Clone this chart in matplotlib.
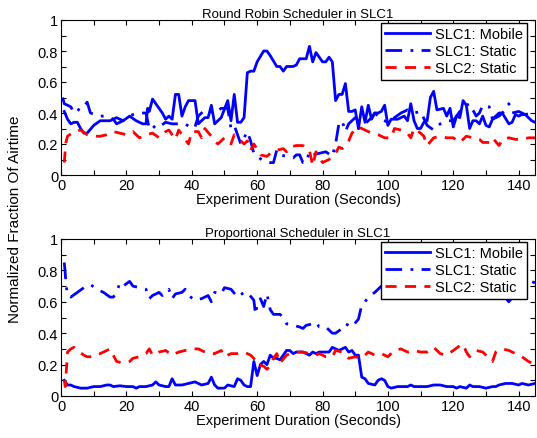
import matplotlib
matplotlib.use("Agg")
import matplotlib.pyplot as plt
from matplotlib.ticker import MultipleLocator

plt.rcParams['font.family'] = ['Liberation Sans', 'DejaVu Sans']

# ---------------- Top panel: Round Robin ----------------
rr_mob_x = [1,2,3,4,5,6,7,8,10,12,15,17,19,21,23,25,26,26.5,27,28,29,31,32,33,34,35,36,37,38,39,41,42,44,45,46,47,49,51,52,53,54,55,56,57,58,59,60,62,63,64,66,67,68,69,71,72,73,75,76,77,78,79,80,81,82,83,84,85,86,87,88,89,90,91,92,93,94,95,96,97,98,99,100,101,103,105,106,107,108,109,110,111,112,113,114,115,117,118,119,120,121,122,123,124,125,126,127,128,129,130,131,132,134,135,137,138,139,140,141,142,144,145]
rr_mob_y = [0.41,0.36,0.33,0.34,0.34,0.30,0.27,0.27,0.32,0.35,0.35,0.37,0.35,0.38,0.35,0.33,0.33,0.43,0.41,0.49,0.46,0.40,0.36,0.38,0.36,0.52,0.52,0.38,0.44,0.48,0.48,0.33,0.37,0.37,0.45,0.33,0.37,0.48,0.35,0.52,0.34,0.34,0.37,0.66,0.67,0.67,0.73,0.80,0.80,0.77,0.70,0.70,0.67,0.70,0.70,0.71,0.75,0.75,0.83,0.73,0.79,0.76,0.73,0.73,0.76,0.73,0.48,0.52,0.52,0.59,0.41,0.41,0.42,0.30,0.44,0.34,0.45,0.36,0.40,0.40,0.41,0.45,0.32,0.36,0.36,0.38,0.35,0.46,0.35,0.30,0.30,0.34,0.35,0.50,0.54,0.42,0.43,0.38,0.43,0.31,0.38,0.37,0.48,0.45,0.30,0.35,0.35,0.33,0.38,0.32,0.31,0.36,0.40,0.40,0.33,0.34,0.39,0.38,0.39,0.39,0.35,0.34]

rr_st1_x = [0.5,1,2,3,4,5,6,7,8,9,12,14,16,17,19,20,22,24,26,27,28,29,30,32,34,36,38,40,41,42,44,47,49,51,52,53,54,55,56,57,58,59,60,62,64,65,66,67,69,71,72,73,74,75,76,77,79,81,83,84,85,86,87,88,89,90,91,92,93,95,96,98,100,102,104,106,108,110,112,114,116,118,120,121,123,125,127,128,129,131,132,134,136,137,138,140,142,144,145]
rr_st1_y = [0.50,0.46,0.45,0.44,0.40,0.41,0.44,0.44,0.47,0.40,0.38,0.38,0.36,0.33,0.35,0.37,0.39,0.40,0.40,0.30,0.32,0.30,0.31,0.34,0.33,0.33,0.33,0.30,0.31,0.38,0.42,0.40,0.43,0.43,0.30,0.32,0.26,0.20,0.24,0.28,0.22,0.14,0.12,0.09,0.08,0.08,0.16,0.13,0.12,0.11,0.13,0.13,0.08,0.08,0.15,0.13,0.14,0.15,0.12,0.20,0.33,0.35,0.28,0.33,0.35,0.37,0.30,0.31,0.33,0.37,0.40,0.36,0.34,0.37,0.40,0.42,0.40,0.41,0.32,0.29,0.33,0.35,0.35,0.38,0.44,0.46,0.38,0.40,0.45,0.44,0.36,0.38,0.42,0.46,0.40,0.41,0.39,0.40,0.40]

rr_st2_x = [1,1.5,2,4,6,8,10,12,14,16,18,20,22,24,26,28,30,32,33,35,36,38,39,40,42,43,44,46,47,48,49,50,52,53,55,56,57,58,59,61,63,64,66,68,69,70,72,74,76,77,78,80,82,84,85,86,88,89,90,91,93,95,97,99,101,102,104,106,107,108,110,111,112,114,116,118,120,122,124,126,128,129,131,132,134,135,137,139,141,143,145]
rr_st2_y = [0.08,0.21,0.25,0.28,0.29,0.26,0.25,0.25,0.26,0.28,0.27,0.26,0.28,0.24,0.26,0.27,0.24,0.28,0.29,0.23,0.29,0.23,0.20,0.28,0.28,0.24,0.30,0.25,0.22,0.20,0.22,0.24,0.20,0.26,0.22,0.20,0.22,0.16,0.20,0.13,0.12,0.14,0.16,0.17,0.15,0.18,0.19,0.19,0.16,0.06,0.15,0.08,0.10,0.14,0.18,0.17,0.22,0.27,0.29,0.31,0.29,0.27,0.26,0.24,0.24,0.30,0.29,0.27,0.24,0.30,0.27,0.25,0.19,0.24,0.25,0.24,0.24,0.21,0.25,0.24,0.23,0.21,0.21,0.24,0.19,0.23,0.24,0.23,0.23,0.24,0.24]

# ---------------- Bottom panel: Proportional ----------------
pf_mob_x = [1,2,3,4,6,8,10,12,14,15,16,18,20,22,23,24,26,28,29,30,32,33,34,35,37,39,41,43,45,46,47,48,50,51,53,54,55,56,57,58,59,60,61,62,63,64,65,66,67,68,69,70,71,72,74,76,77,78,79,80,82,83,84,85,87,88,89,90,91,92,93,94,96,97,98,99,100,101,103,105,106,107,108,110,112,114,116,118,120,121,122,124,125,126,128,130,132,133,134,136,138,140,141,143,145]
pf_mob_y = [0.10,0.07,0.07,0.06,0.05,0.05,0.06,0.06,0.07,0.07,0.06,0.065,0.06,0.06,0.05,0.06,0.06,0.07,0.09,0.07,0.06,0.06,0.11,0.07,0.07,0.08,0.09,0.07,0.08,0.12,0.07,0.05,0.05,0.07,0.06,0.11,0.10,0.07,0.06,0.06,0.22,0.13,0.20,0.22,0.20,0.26,0.24,0.24,0.23,0.26,0.29,0.29,0.27,0.28,0.28,0.26,0.28,0.27,0.28,0.28,0.28,0.31,0.30,0.29,0.31,0.28,0.29,0.26,0.26,0.12,0.11,0.08,0.07,0.10,0.11,0.10,0.06,0.05,0.06,0.06,0.06,0.07,0.06,0.06,0.06,0.07,0.07,0.06,0.06,0.05,0.06,0.05,0.07,0.06,0.06,0.05,0.06,0.06,0.07,0.08,0.08,0.07,0.08,0.07,0.08]

pf_st1_x = [1,1.3,1.5,2,3,5,7,9,11,13,15,16,17,18,19,21,22,24,26,27,28,30,31,33,34,35,37,38,39,41,43,45,46,47,49,50,52,54,56,57,59,59.5,60,61,62,63,64,65,67,68,69,71,73,74,75,77,78,79,81,83,84,86,87,88,89,91,92,93,94,96,98,100,105,110,115,120,125,130,135,137,140,142,144,145]
pf_st1_y = [0.85,0.78,0.72,0.64,0.63,0.66,0.69,0.71,0.68,0.66,0.63,0.63,0.66,0.72,0.70,0.73,0.70,0.69,0.68,0.62,0.64,0.66,0.64,0.68,0.62,0.65,0.66,0.68,0.64,0.61,0.62,0.64,0.60,0.66,0.65,0.69,0.68,0.63,0.66,0.66,0.61,0.52,0.58,0.62,0.57,0.65,0.55,0.52,0.52,0.50,0.46,0.45,0.44,0.43,0.45,0.46,0.47,0.44,0.44,0.40,0.40,0.43,0.46,0.45,0.44,0.49,0.58,0.60,0.63,0.66,0.70,0.71,0.70,0.72,0.68,0.70,0.66,0.70,0.65,0.60,0.68,0.70,0.73,0.72]

pf_st2_x = [1,1.3,2,3,4,5,7,8,10,12,14,15,16,17,19,21,22,24,26,27,28,30,32,34,36,38,40,42,43,45,47,49,50,52,54,56,58,59,60,62,63,64,65,66,67,69,70,72,74,76,78,79,81,83,84,86,88,90,92,94,96,98,100,102,104,106,108,110,112,114,116,118,120,122,123,124,125,127,129,131,132,133,135,137,139,141,143,145]
pf_st2_y = [0.10,0.06,0.28,0.30,0.31,0.29,0.26,0.25,0.25,0.27,0.29,0.30,0.26,0.22,0.21,0.22,0.24,0.25,0.27,0.30,0.26,0.28,0.29,0.26,0.28,0.29,0.30,0.30,0.29,0.27,0.27,0.29,0.25,0.27,0.27,0.28,0.26,0.24,0.20,0.19,0.17,0.19,0.24,0.27,0.21,0.26,0.27,0.28,0.28,0.27,0.26,0.27,0.25,0.25,0.29,0.28,0.24,0.25,0.24,0.28,0.26,0.27,0.25,0.29,0.30,0.28,0.29,0.28,0.28,0.31,0.27,0.26,0.29,0.32,0.33,0.28,0.25,0.29,0.28,0.24,0.22,0.28,0.30,0.29,0.27,0.25,0.22,0.20]

titles = ["Round Robin Scheduler in SLC1", "Proportional Scheduler in SLC1"]
labels = ["SLC1: Mobile", "SLC1: Static", "SLC2: Static"]
xlabel = "Experiment Duration (Seconds)"
ylabel = "Normalized Fraction Of Airtime"

fig = plt.figure(figsize=(5.37, 4.39), dpi=100)
ax1 = fig.add_axes([61/537, 1-176/439, 474/537, 155/439])
ax2 = fig.add_axes([61/537, 1-397/439, 474/537, 157/439])

panels = [
    (ax1, (rr_mob_x, rr_mob_y), (rr_st1_x, rr_st1_y), (rr_st2_x, rr_st2_y)),
    (ax2, (pf_mob_x, pf_mob_y), (pf_st1_x, pf_st1_y), (pf_st2_x, pf_st2_y)),
]

for i, (ax, mob, st1, st2) in enumerate(panels):
    ax.plot(mob[0], mob[1], color=(0, 0, 1), lw=2.0, ls='-', label=labels[0])
    ax.plot(st1[0], st1[1], color=(0, 0, 1), lw=2.0, ls=(0, (6, 3, 1, 3)), label=labels[1])
    ax.plot(st2[0], st2[1], color=(1, 0, 0), lw=2.0, ls=(0, (4, 3)), label=labels[2])
    ax.set_xlim(0, 145)
    ax.set_ylim(0, 1)
    ax.xaxis.set_major_locator(MultipleLocator(20))
    ax.xaxis.set_minor_locator(MultipleLocator(10))
    ax.yaxis.set_major_locator(MultipleLocator(0.2))
    ax.yaxis.set_minor_locator(MultipleLocator(0.1))
    ax.set_yticks([0, 0.2, 0.4, 0.6, 0.8, 1])
    ax.set_yticklabels(['0', '0.2', '0.4', '0.6', '0.8', '1'])
    ax.tick_params(which='both', direction='in', top=True, right=True, length=3.5, width=0.8, labelsize=10.5, pad=2)
    for s in ax.spines.values():
        s.set_linewidth(0.8)
    ax.set_title(titles[i], fontsize=9.5, pad=2)
    ax.set_xlabel(xlabel, fontsize=10.5, labelpad=0)
    leg = ax.legend(loc='upper right', bbox_to_anchor=(0.983, 0.981), fontsize=10.5, frameon=True,
                    fancybox=False, edgecolor='black', framealpha=1, borderpad=0.3,
                    labelspacing=0.2, handlelength=3.1, handletextpad=0.3, borderaxespad=0)
    leg.get_frame().set_linewidth(1.0)
    leg.set_zorder(10)

fig.text(15/537, 0.5, ylabel, rotation=90, ha='center', va='center', fontsize=11)

fig.savefig("out.png", dpi=100)
